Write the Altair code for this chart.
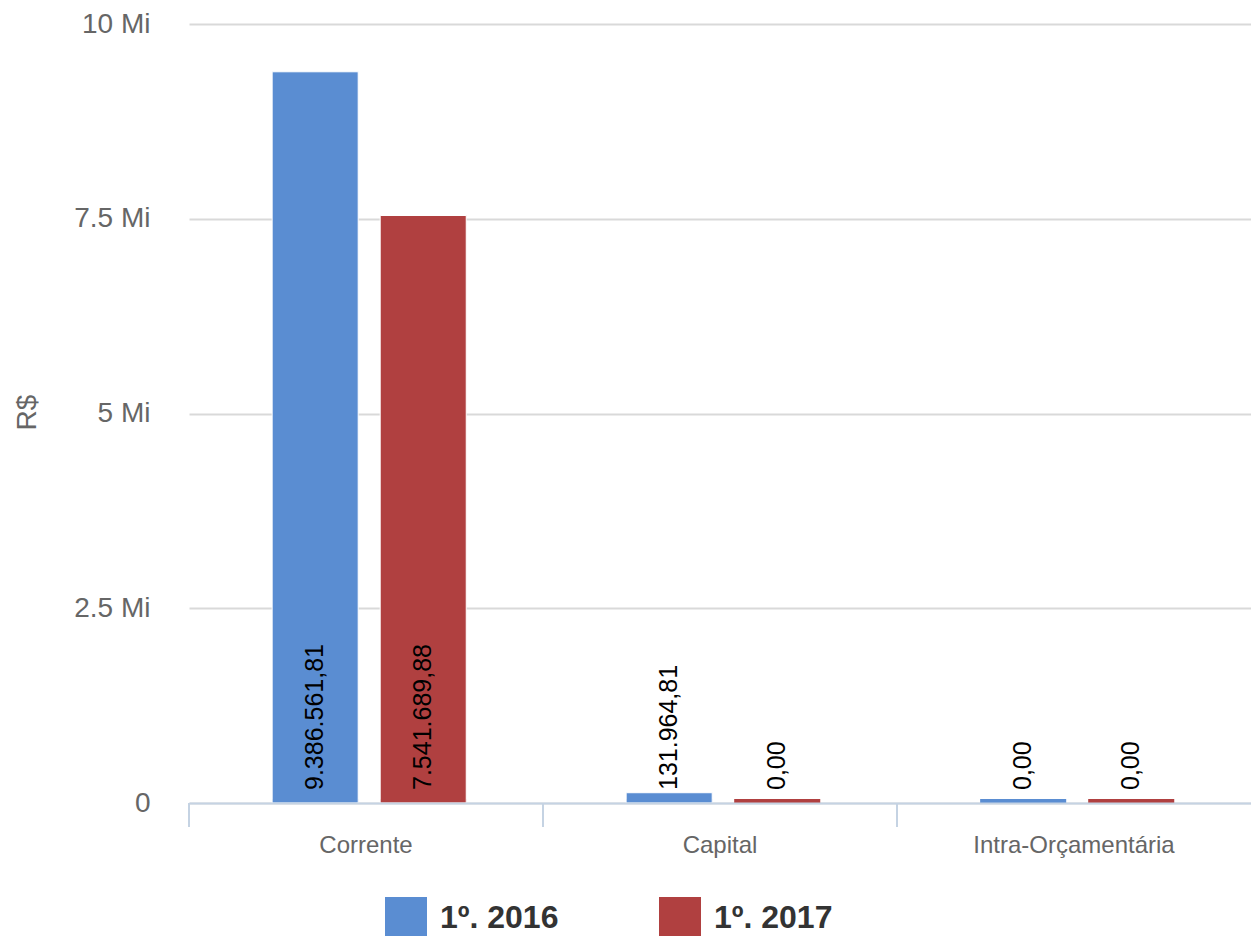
import altair as alt
import pandas as pd

categories = ["Corrente", "Capital", "Intra-Orçamentária"]
series = ["1º. 2016", "1º. 2017"]
values_2016 = [9386561.81, 131964.81, 0.0]
values_2017 = [7541689.88, 0.0, 0.0]
colors = ["#5a8dd2", "#b04040"]
y_ticks = [0, 2500000, 5000000, 7500000, 10000000]


def br(v):
    s = f"{v:,.2f}"
    return s.replace(",", "X").replace(".", ",").replace("X", ".")


rows = []
for c, a, b in zip(categories, values_2016, values_2017):
    rows.append({"cat": c, "serie": series[0], "valor": a, "rotulo": br(a)})
    rows.append({"cat": c, "serie": series[1], "valor": b, "rotulo": br(b)})
df = pd.DataFrame(rows)
df_cat = pd.DataFrame({"cat": categories})

W, H = 1062, 779
FONT = "Liberation Sans"

x_axis = alt.Axis(
    title=None, ticks=False, grid=False, domainColor="#c5d3e3", domainWidth=2,
    labelFontSize=24, labelColor="#666666", labelPadding=30, labelAngle=0,
    labelFont=FONT, zindex=1, labelLimit=500,
)
x_scale = alt.Scale(paddingInner=0, paddingOuter=0)
x_enc = alt.X("cat:N", sort=categories, scale=x_scale, axis=x_axis)
xo_enc = alt.XOffset(
    "serie:N", sort=series,
    scale=alt.Scale(paddingInner=0.2037, paddingOuter=0.74, align=0.52),
)
y_enc = alt.Y(
    "valor:Q",
    scale=alt.Scale(domain=[0, 10000000]),
    axis=alt.Axis(
        values=y_ticks,
        labelExpr="datum.value == 0 ? '0' : format(datum.value / 1000000, '~g') + ' Mi'",
        domain=False, ticks=False, grid=True, gridColor="#d9d9d9", gridWidth=2,
        labelFontSize=28, labelColor="#666666", labelFont=FONT, labelPadding=39,
        title="R$", titleFont=FONT, titleFontSize=28, titleColor="#666666",
        titleFontWeight="normal", titleX=-162, titleY=388, titleAngle=270,
        titleAlign="center", titleBaseline="middle",
    ),
)
color_enc = alt.Color(
    "serie:N",
    sort=series,
    scale=alt.Scale(domain=series, range=colors),
    legend=alt.Legend(
        title=None, orient="none", legendX=196, legendY=873, direction="horizontal",
        symbolType="square", symbolSize=1764, symbolStrokeWidth=0,
        labelFontSize=32, labelFontWeight="bold", labelColor="#333333", labelFont=FONT,
        columnPadding=100, labelOffset=13, padding=0, labelLimit=300,
    ),
)

minbars = alt.Chart(df).mark_bar().encode(
    x=x_enc, xOffset=xo_enc, y=alt.value(H - 4), y2=alt.value(H), color=color_enc
)

bars = alt.Chart(df).transform_filter("datum.valor > 0").mark_bar(
    stroke="white", strokeWidth=1
).encode(
    x=x_enc, xOffset=xo_enc, y=y_enc, color=color_enc
)

labels = alt.Chart(df).mark_text(
    angle=270, align="left", baseline="middle", fontSize=25, font=FONT, color="#000000"
).encode(
    x=x_enc, xOffset=xo_enc, y=alt.value(H - 13), text="rotulo:N"
)

ticks = alt.Chart(df_cat).mark_rule(color="#c5d3e3", strokeWidth=2).encode(
    x=alt.X("cat:N", sort=categories, scale=x_scale, bandPosition=0, axis=x_axis),
    y=alt.value(H),
    y2=alt.value(H + 24),
)

chart = alt.layer(minbars, bars, labels, ticks).properties(
    width=W,
    height=H,
    padding={"left": 181, "top": 16, "right": 0, "bottom": 133},
    autosize="none",
).configure_view(stroke=None)

chart.save("out.html", embed_options={"renderer": "svg", "actions": False})
